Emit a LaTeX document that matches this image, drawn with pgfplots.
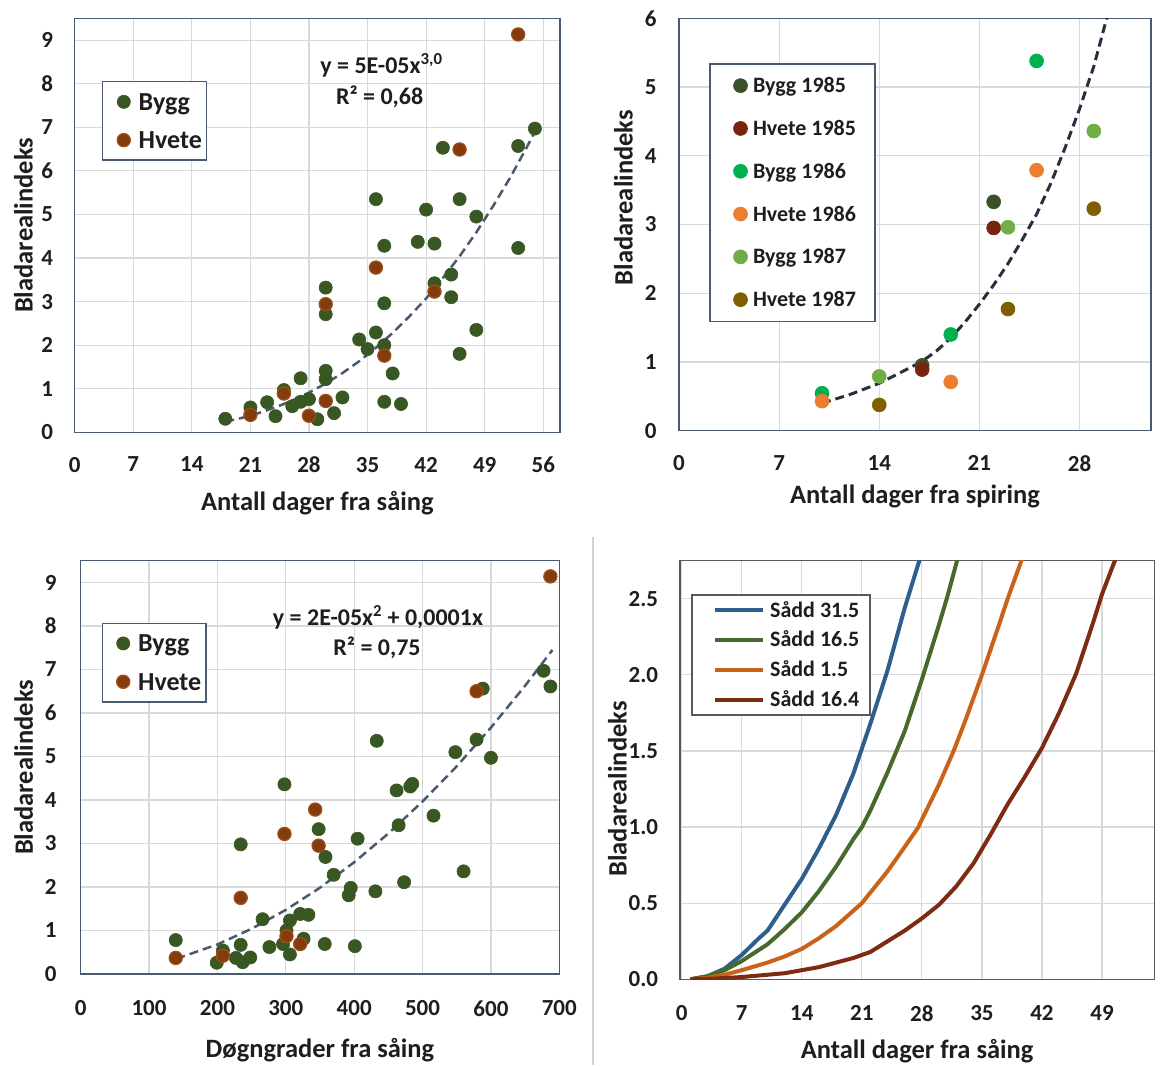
\documentclass[border=0pt]{standalone}
\usepackage{fontspec}
\setmainfont{Carlito}
\usepackage{pgfplots}
\pgfplotsset{compat=1.18}

\definecolor{frame}{HTML}{4A5A70}
\definecolor{frameg}{HTML}{595959}
\definecolor{gridc}{HTML}{D9D9D9}
\definecolor{txt}{HTML}{1E1E1E}
\definecolor{bygg}{HTML}{385723}
\definecolor{hvete}{HTML}{843C0C}
\definecolor{hvetee}{HTML}{A04E1C}
\definecolor{trend}{HTML}{4A5A70}
\definecolor{trendd}{HTML}{263140}
\definecolor{bA}{HTML}{3A5226}
\definecolor{hA}{HTML}{7A2410}
\definecolor{bB}{HTML}{00B050}
\definecolor{hB}{HTML}{ED7D31}
\definecolor{bC}{HTML}{70AD47}
\definecolor{hC}{HTML}{7F6000}
\definecolor{cblue}{HTML}{2E5F8C}
\definecolor{cgreen}{HTML}{47692C}
\definecolor{corange}{HTML}{C9631A}
\definecolor{cbrown}{HTML}{7B2C12}

\newcommand{\LA}[1]{\makebox[66pt][l]{#1}}
\newcommand{\LB}[1]{\makebox[120pt][l]{#1}}
\newcommand{\LC}[1]{\makebox[98pt][l]{#1}}

\pgfplotsset{
  base/.style={
    scale only axis,
    axis line style={line width=1.5pt, draw=frame},
    grid=major,
    major grid style={line width=1.2pt, draw=gridc},
    major tick length=0pt,
    /pgf/number format/assume math mode=true,
    ticklabel style={font=\bfseries\fontsize{23}{27}\selectfont, text=txt, inner sep=0pt},
    label style={font=\bfseries\fontsize{26.5}{31}\selectfont, text=txt, inner sep=0pt},
    xlabel style={at={(axis description cs:0.5,0)}, anchor=north},
    ylabel style={anchor=south},
    legend cell align=left,
  },
  dot/.style={only marks, mark=*, mark size=6.6pt, color=#1, mark options={line width=0.6pt, draw=#1, fill=#1}},
  hdot/.style={only marks, mark=*, mark size=6.6pt, color=hvete, mark options={line width=1.2pt, draw=hvetee, fill=hvete}},
  leg/.style={legend image code/.code={\path (-#1,0pt); \draw[##1] plot coordinates {(0pt,0pt)};}},
  lineleg/.style={legend image code/.code={\path (-19.5pt,0pt); \draw[##1] (0pt,0pt) -- (48.2pt,0pt);}},
}

\begin{document}
\begin{tikzpicture}
\useasboundingbox (0,0) rectangle (1166pt,-1065pt);

% ---------------- Top left ----------------
\begin{axis}[base, at={(74.7pt,-432.3pt)}, anchor=south west, width=485.3pt, height=414pt,
  xmin=0, xmax=58, ymin=0, ymax=9.5, xtick={0,7,...,56}, ytick={0,1,...,9},
  xticklabel style={yshift=-24.5pt}, yticklabel style={xshift=-21.5pt},
  xlabel={Antall dager fra såing}, ylabel={Bladarealindeks},
  xlabel style={yshift=-58.7pt}, ylabel style={at={(axis description cs:-0.0859,0.5)}},
  legend style={at={(axis description cs:0.0556,0.8486)}, anchor=north west, draw=frame, line width=1.5pt,
    fill=white, inner xsep=2pt, inner ysep=8.5pt, row sep=15.1pt, column sep=8.3pt,
    font=\bfseries\fontsize{26}{30}\selectfont, text=txt,
    nodes={inner sep=0pt, text height=20pt, text depth=3.2pt}},
]
\addplot[dot=bygg, leg=18.6pt] table {
x y
55 6.97
53 6.57
44 6.53
36 5.35
46 5.35
42 5.11
48 4.95
37 4.28
41 4.37
43 4.33
53 4.23
45 3.62
43 3.42
30 3.32
45 3.10
37 2.96
30 2.71
48 2.35
36 2.29
34 2.13
37 2.00
35 1.91
46 1.80
38 1.35
30 1.41
30 1.22
27 1.24
32 0.80
37 0.70
39 0.65
23 0.69
25 0.97
28 0.76
27 0.70
26 0.60
21 0.57
24 0.37
29 0.30
31 0.44
18 0.31
};
\addlegendentry{\LA{Bygg}}
\addplot[hdot, leg=18.6pt] table {
x y
53 9.13
46 6.49
36 3.78
30 2.94
43 3.23
37 1.76
25 0.89
30 0.72
21 0.40
28 0.38
};
\addlegendentry{\LA{Hvete}}
\addplot[forget plot, color=trend, line width=2.5pt, dash pattern=on 9pt off 5pt] coordinates {
(18,0.242) (20,0.332) (22,0.442) (24,0.574) (26,0.729) (28,0.911) (30,1.12) (32,1.36)
(34,1.63) (36,1.94) (38,2.28) (40,2.66) (42,3.07) (44,3.54) (46,4.04) (48,4.59)
(50,5.19) (52,5.83) (54,6.53) (55,6.90)};
\node[font=\bfseries\fontsize{24}{28}\selectfont, text=txt] at (axis cs:36.66,8.42) {y = 5E-05x\textsuperscript{3,0}};
\node[font=\bfseries\fontsize{24}{28}\selectfont, text=txt] at (axis cs:36.45,7.71) {R² = 0,68};
\end{axis}

% ---------------- Top right ----------------
\begin{axis}[base, at={(679pt,-430.7pt)}, anchor=south west, width=472pt, height=412.4pt,
  xmin=0, xmax=33, ymin=0, ymax=6, xtick={0,7,...,28}, ytick={0,1,...,6},
  xticklabel style={yshift=-24.3pt}, yticklabel style={xshift=-22.3pt},
  xlabel={Antall dager fra spiring}, ylabel={Bladarealindeks},
  xlabel style={yshift=-54pt}, ylabel style={at={(axis description cs:-0.0975,0.565)}},
  legend style={at={(axis description cs:0.0636,0.8916)}, anchor=north west, draw=frame, line width=1.5pt,
    fill=white, inner xsep=2pt, inner ysep=12pt, row sep=23pt, column sep=5.5pt,
    font=\bfseries\fontsize{22}{26}\selectfont, text=txt,
    nodes={inner sep=0pt, text height=17pt, text depth=2.8pt}},
]
\addplot[dot=bA, mark size=7pt, leg=28pt] table {
x y
22 3.33
17 0.95
};
\addlegendentry{\LB{Bygg 1985}}
\addplot[dot=hA, mark size=7pt, leg=28pt] table {
x y
22 2.95
17 0.89
};
\addlegendentry{\LB{Hvete 1985}}
\addplot[dot=bB, mark size=7pt, leg=28pt] table {
x y
25 5.38
19 1.40
10 0.545
};
\addlegendentry{\LB{Bygg 1986}}
\addplot[dot=hB, mark size=7pt, leg=28pt] table {
x y
25 3.79
19 0.71
10 0.43
};
\addlegendentry{\LB{Hvete 1986}}
\addplot[dot=bC, mark size=7pt, leg=28pt] table {
x y
29 4.36
23 2.96
14 0.79
};
\addlegendentry{\LB{Bygg 1987}}
\addplot[dot=hC, mark size=7pt, leg=28pt] table {
x y
29 3.23
23 1.77
14 0.375
};
\addlegendentry{\LB{Hvete 1987}}
\addplot[forget plot, color=trendd, line width=3pt, dash pattern=on 9pt off 5pt] coordinates {
(10,0.40) (12,0.53) (14,0.69) (16,0.90) (17,1.01) (18,1.16) (19,1.35) (20,1.58) (21,1.84)
(22,2.12) (23,2.43) (24,2.78) (25,3.15) (26,3.60) (27,4.12) (28,4.68) (29,5.30) (29.9,6.0) (30.2,6.25)};
\end{axis}

% ---------------- Bottom left ----------------
\begin{axis}[base, at={(80.7pt,-974pt)}, anchor=south west, width=478.6pt, height=413.3pt,
  xmin=0, xmax=700, ymin=0, ymax=9.5, xtick={0,100,...,700}, ytick={0,1,...,9},
  xticklabel style={yshift=-26.7pt}, yticklabel style={xshift=-24pt},
  xlabel={Døgngrader fra såing}, ylabel={Bladarealindeks},
  xlabel style={yshift=-64pt}, ylabel style={at={(axis description cs:-0.099,0.5)}},
  legend style={at={(axis description cs:0.0439,0.85)}, anchor=north west, draw=frame, line width=1.5pt,
    fill=white, inner xsep=2pt, inner ysep=8.4pt, row sep=15.1pt, column sep=8.3pt,
    font=\bfseries\fontsize{26}{30}\selectfont, text=txt,
    nodes={inner sep=0pt, text height=20pt, text depth=3.2pt}},
]
\addplot[dot=bygg, leg=18pt] table {
x y
677 6.97
687 6.61
588 6.56
433 5.36
579 5.39
548 5.10
600 4.97
298 4.36
462 4.22
482 4.31
485 4.37
516 3.64
465 3.42
348 3.33
405 3.11
234 2.98
358 2.69
560 2.36
370 2.28
473 2.11
395 1.98
392 1.81
431 1.90
266 1.26
321 1.38
333 1.36
306 1.23
301 1.00
139 0.78
326 0.81
357 0.69
401 0.64
234 0.67
276 0.62
296 0.69
306 0.45
208 0.54
199 0.26
227 0.37
237 0.27
248 0.38
};
\addlegendentry{\LA{Bygg}}
\addplot[hdot, leg=18pt] table {
x y
687 9.14
579 6.50
343 3.78
298 3.22
348 2.95
234 1.75
301 0.87
321 0.69
208 0.42
139 0.37
};
\addlegendentry{\LA{Hvete}}
\addplot[forget plot, color=trend, line width=2.5pt, dash pattern=on 9pt off 5pt] coordinates {
(140,0.350) (200,0.681) (250,1.040) (300,1.474) (350,1.984) (400,2.569) (450,3.230)
(500,3.966) (550,4.776) (600,5.664) (650,6.626) (690,7.450)};
\node[font=\bfseries\fontsize{24}{28}\selectfont, text=txt] at (axis cs:434.8,8.19) {y = 2E-05x\textsuperscript{2} + 0,0001x};
\node[font=\bfseries\fontsize{24}{28}\selectfont, text=txt] at (axis cs:433.4,7.49) {R² = 0,75};
\end{axis}

% ---------------- Bottom right ----------------
\begin{axis}[base, at={(680pt,-979.3pt)}, anchor=south west, width=474.3pt, height=418.6pt,
  axis line style={line width=1.5pt, draw=frameg},
  xmin=-0.2, xmax=55.1, ymin=0, ymax=2.75, xtick={0,7,...,49}, ytick={0,0.5,...,2.5},
  xticklabel style={yshift=-25.7pt}, yticklabel style={xshift=-21.7pt},
  yticklabel style={/pgf/number format/fixed, /pgf/number format/fixed zerofill, /pgf/number format/precision=1},
  xlabel={Antall dager fra såing}, ylabel={Bladarealindeks},
  xlabel style={yshift=-60pt}, ylabel style={at={(axis description cs:-0.1117,0.4546)}},
  legend style={at={(axis description cs:0.0232,0.9204)}, anchor=north west, draw=frameg, line width=1.5pt,
    fill=white, inner xsep=2pt, inner ysep=5.3pt, row sep=10.1pt, column sep=4.7pt,
    font=\bfseries\fontsize{22}{26}\selectfont, text=txt,
    nodes={inner sep=0pt, text height=17pt, text depth=2.8pt}},
]
\addplot[color=cblue, line width=4pt, lineleg] coordinates {
(1,0) (3,0.02) (5,0.07) (7,0.16) (9,0.27) (10,0.32) (12,0.49) (14,0.66) (16,0.86) (18,1.08)
(20,1.35) (22,1.68) (24,2.03) (26,2.44) (27.7,2.75) (28.5,2.92)};
\addlegendentry{\LC{Sådd 31.5}}
\addplot[color=cgreen, line width=4pt, lineleg] coordinates {
(1,0) (3,0.02) (5,0.06) (7,0.12) (10,0.23) (12,0.33) (14,0.44) (16,0.58) (18,0.74) (20,0.92)
(21,1.0) (22,1.11) (24,1.36) (26,1.63) (28,1.97) (30,2.33) (31,2.52) (32.1,2.75) (33,2.95)};
\addlegendentry{\LC{Sådd 16.5}}
\addplot[color=corange, line width=4pt, lineleg] coordinates {
(1,0) (3,0.01) (5,0.03) (7,0.06) (10,0.11) (12,0.15) (14,0.20) (16,0.27) (18,0.35) (20,0.45)
(21,0.50) (22,0.57) (24,0.71) (26,0.87) (27.6,1.0) (28,1.05) (30,1.28) (31.7,1.5) (33,1.69)
(35,2.0) (37,2.33) (38,2.5) (39.6,2.75) (40.5,2.9)};
\addlegendentry{\LC{Sådd 1.5}}
\addplot[color=cbrown, line width=4pt, lineleg] coordinates {
(1,0) (4,0.005) (7,0.015) (10,0.03) (12,0.04) (14,0.06) (16,0.08) (18,0.11) (20,0.14) (22,0.18)
(24,0.25) (26,0.32) (28,0.40) (30,0.49) (32,0.61) (34,0.76) (36,0.95) (38,1.15) (40,1.33)
(42,1.52) (44,1.75) (46,2.01) (48,2.35) (49,2.53) (50.5,2.75) (51.5,2.9)};
\addlegendentry{\LC{Sådd 16.4}}
\end{axis}

\draw[color=gray!35, line width=1.2pt] (593pt,-537pt) -- (593pt,-1065pt);
\end{tikzpicture}
\end{document}
